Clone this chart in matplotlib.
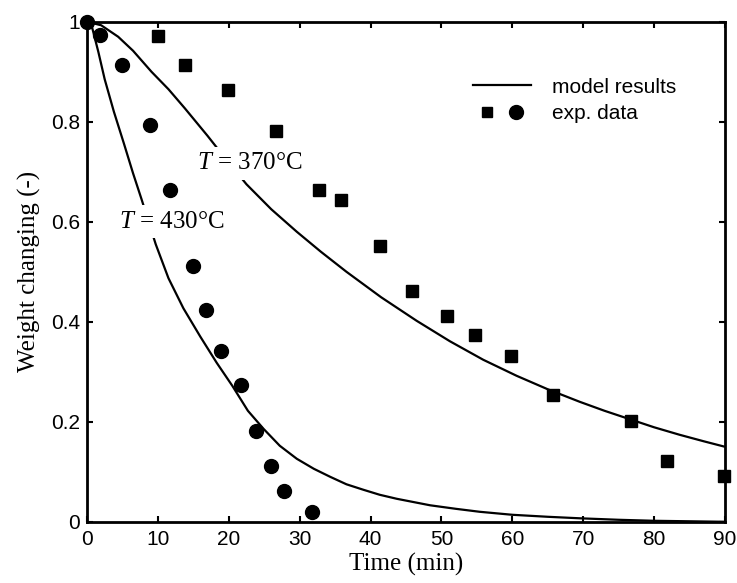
"""
Weight loss during pyrolysis at two temperatures: model curves against
thermogravimetric measurements.
"""

import matplotlib

matplotlib.use("Agg")
import matplotlib.pyplot as plt
from matplotlib.legend_handler import HandlerTuple
from matplotlib.lines import Line2D

# model curve, T = 370 C
model_370_t = [0, 2.0, 4.4, 6.5, 9.1, 11.5, 13.8, 17.0, 19.5, 22.5, 26.0, 29.6,
               33.0, 36.6, 41.5, 46.5, 51.2, 55.9, 60.6, 65.0, 69.5, 73.0,
               76.6, 80.0, 83.6, 87.0, 90]
model_370_w = [1.0, 0.993, 0.97, 0.942, 0.90, 0.865, 0.827, 0.772, 0.727,
               0.675, 0.625, 0.580, 0.540, 0.500, 0.449, 0.402, 0.361, 0.324,
               0.292, 0.265, 0.240, 0.222, 0.205, 0.189, 0.174, 0.161, 0.15]

# model curve, T = 430 C
model_430_t = [0, 0.7, 1.6, 2.5, 3.8, 5.2, 6.5, 7.7, 9.7, 11.5, 13.6, 16.0,
               18.3, 20.5, 22.7, 24.9, 27.2, 29.6, 32.0, 34.3, 36.6, 39.0,
               41.3, 43.7, 48.4, 52.0, 55.4, 60.0, 65.0, 69.5, 75.0, 80.0,
               85.0, 90]
model_430_w = [1.0, 0.99, 0.94, 0.885, 0.82, 0.757, 0.697, 0.645, 0.555,
               0.487, 0.427, 0.370, 0.318, 0.272, 0.222, 0.186, 0.152, 0.126,
               0.106, 0.090, 0.075, 0.064, 0.054, 0.046, 0.033, 0.026, 0.020,
               0.014, 0.010, 0.007, 0.004, 0.002, 0.001, 0.0]

# measured points
exp_370_t = [10, 13.8, 19.9, 26.7, 32.8, 35.9, 41.3, 45.9, 50.8, 54.8, 59.8,
             65.8, 76.8, 81.8, 89.8]
exp_370_w = [0.972, 0.913, 0.863, 0.781, 0.663, 0.643, 0.552, 0.461, 0.411,
             0.373, 0.331, 0.253, 0.202, 0.121, 0.091]

exp_430_t = [0, 1.8, 4.9, 8.9, 11.7, 14.9, 16.8, 18.9, 21.7, 23.8, 25.9, 27.8,
             31.7]
exp_430_w = [1.0, 0.973, 0.913, 0.793, 0.663, 0.511, 0.423, 0.341, 0.273,
             0.182, 0.111, 0.062, 0.02]

x_ticks = list(range(0, 91, 10))
y_ticks = [0, 0.2, 0.4, 0.6, 0.8, 1.0]
y_tick_labels = ["0", "0.2", "0.4", "0.6", "0.8", "1"]

SANS = "Liberation Sans"
SERIF = "Liberation Serif"

plt.rcParams.update({
    "font.family": SANS,
    "mathtext.fontset": "custom",
    "mathtext.rm": SERIF,
    "mathtext.it": SERIF + ":italic",
})

fig = plt.figure(figsize=(7.37, 5.83), dpi=100)
ax = fig.add_axes([0.118, 0.105, 0.8657, 0.8577])

line_kw = dict(color="black", lw=1.6, solid_capstyle="butt",
               solid_joinstyle="round", zorder=2)
ax.plot(model_370_t, model_370_w, **line_kw)
ax.plot(model_430_t, model_430_w, **line_kw)

ax.plot(exp_370_t, exp_370_w, ls="none", marker="s", ms=8.5, color="black",
        clip_on=False, zorder=4)
ax.plot(exp_430_t, exp_430_w, ls="none", marker="o", ms=10, color="black",
        clip_on=False, zorder=4)

label_box = dict(facecolor="white", edgecolor="none", pad=4)
ax.text(22.9, 0.717, "$T$ = 370°C", family=SERIF, fontsize=18,
        ha="center", va="center", bbox=label_box, zorder=3)
ax.text(11.9, 0.60, "$T$ = 430°C", family=SERIF, fontsize=18,
        ha="center", va="center", bbox=label_box, zorder=3)

ax.set_xlim(0, 90)
ax.set_ylim(0, 1)
ax.set_xticks(x_ticks)
ax.set_yticks(y_ticks)
ax.set_yticklabels(y_tick_labels)
ax.tick_params(direction="in", top=True, right=True, length=4, width=1.5,
               labelsize=15)
ax.tick_params(axis="x", pad=6)
ax.tick_params(axis="y", pad=5)
for spine in ax.spines.values():
    spine.set_linewidth(2)

ax.set_xlabel("Time (min)", family=SERIF, fontsize=18, labelpad=3)
ax.set_ylabel("Weight changing (-)", family=SERIF, fontsize=18, labelpad=7)

handles = [
    Line2D([], [], color="black", lw=1.6),
    (Line2D([], [], ls="none", marker="s", ms=7, color="black"),
     Line2D([], [], ls="none", marker="o", ms=10, color="black")),
]
ax.legend(handles, ["model results", "exp. data"],
          handler_map={tuple: HandlerTuple(ndivide=None, pad=0.0)},
          loc="upper left", bbox_to_anchor=(0.6045, 0.888), frameon=False,
          fontsize=15, handlelength=2.8, handletextpad=1.0, labelspacing=0.35,
          borderpad=0, borderaxespad=0)

fig.savefig("out.png", dpi=100)
